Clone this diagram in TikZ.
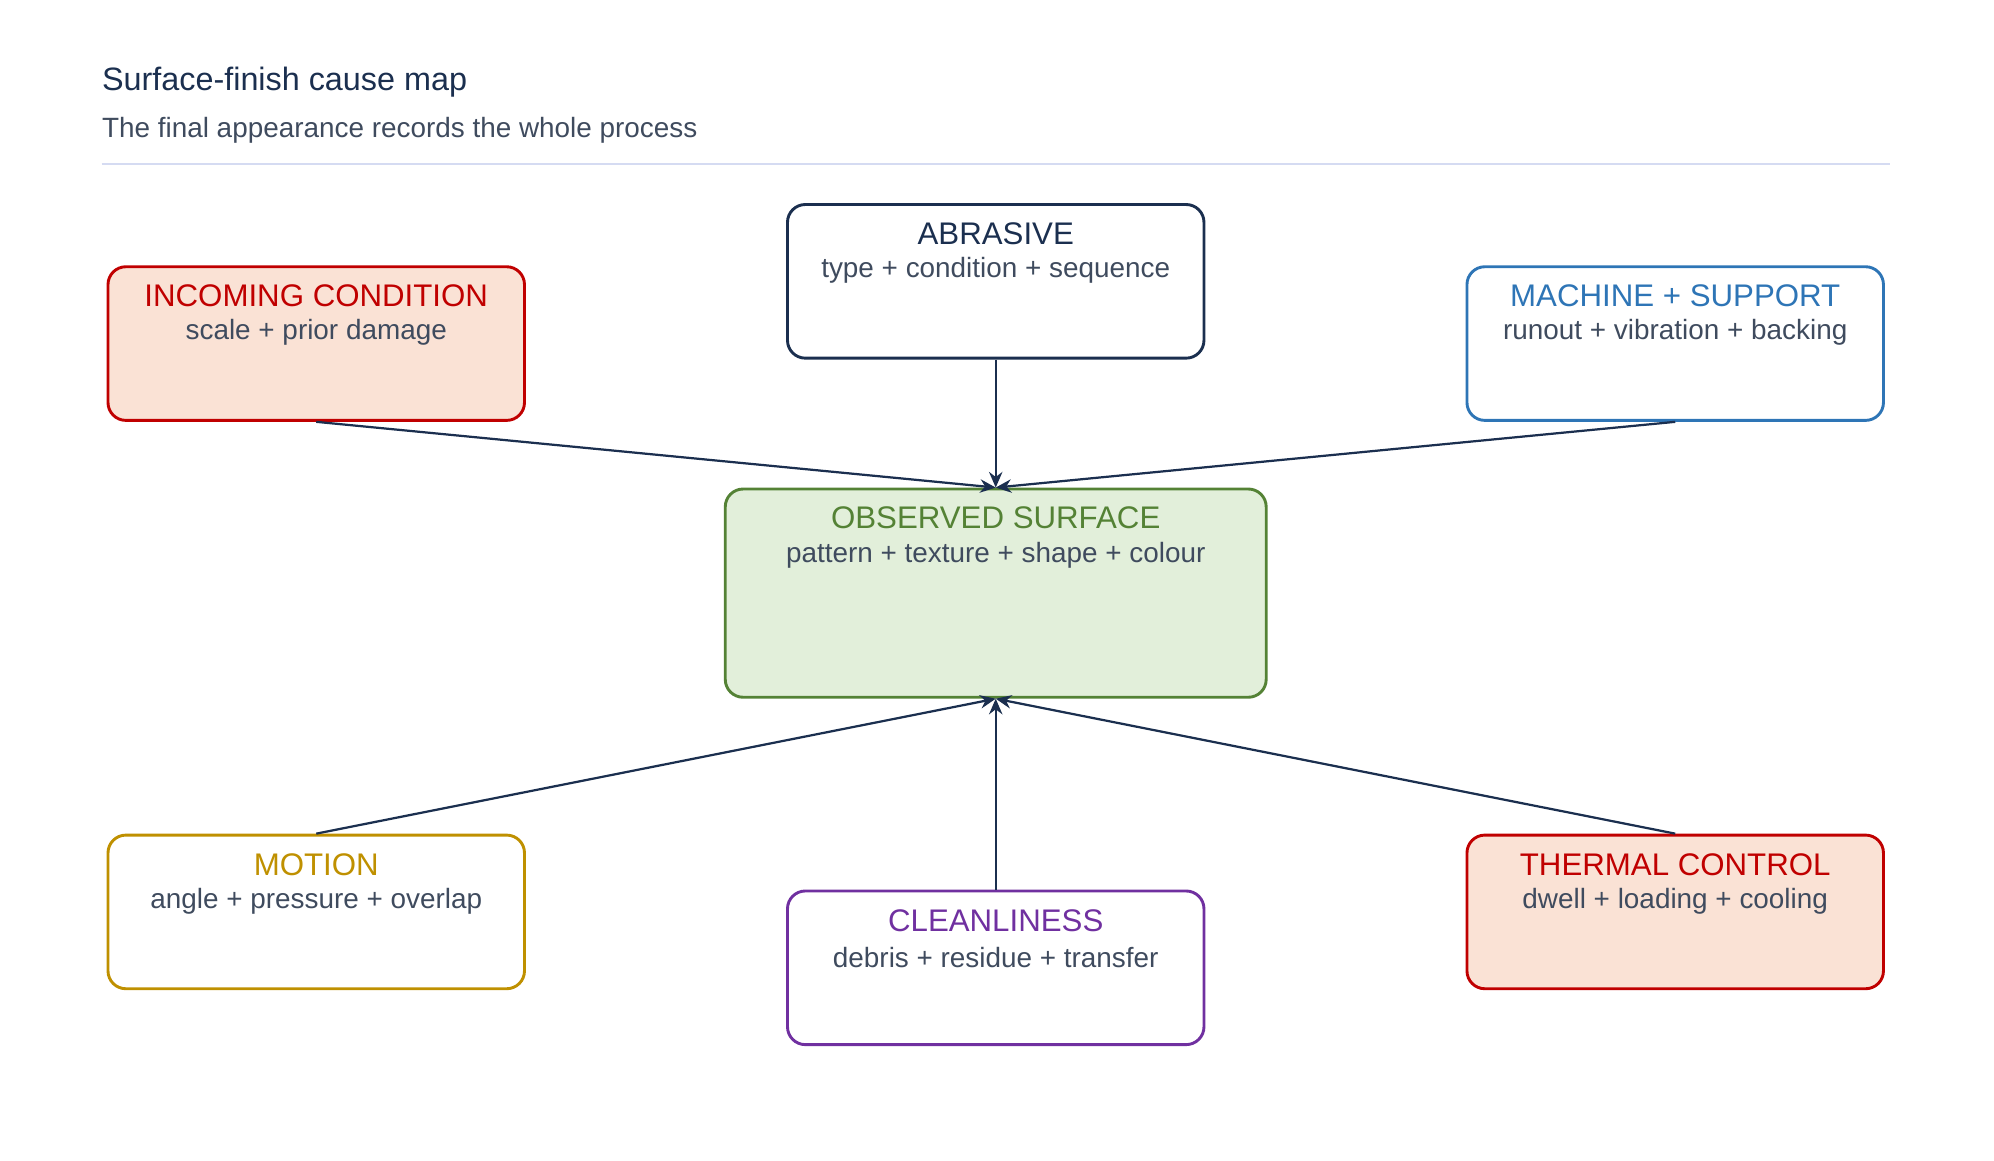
\documentclass[tikz,border=0pt]{standalone}
\usepackage{fontspec}
\setmainfont{Liberation Sans}
\usetikzlibrary{arrows.meta,positioning}
\definecolor{navy}{HTML}{1B2F4F}
\definecolor{txt}{HTML}{3F4B5E}
\definecolor{rd}{HTML}{C00000}
\definecolor{rdfill}{HTML}{FAE2D5}
\definecolor{bl}{HTML}{2E75B6}
\definecolor{gn}{HTML}{548235}
\definecolor{gnfill}{HTML}{E2EFDA}
\definecolor{gd}{HTML}{BF9000}
\definecolor{pu}{HTML}{7030A0}
\definecolor{rule}{HTML}{D5DBF2}
\tikzset{
  box/.style={draw,rounded corners=8pt,line width=1.3pt,minimum width=6.56cm,minimum height=2.42cm},
  head/.style={font=\fontsize{14}{16}\selectfont,inner sep=0pt,anchor=center},
  body/.style={font=\fontsize{12.5}{15}\selectfont,text=txt,inner sep=0pt,anchor=center},
  link/.style={draw=navy,line width=1pt,-{Stealth[length=7pt,width=6pt]}}
}
\begin{document}
\begin{tikzpicture}[x=0.02cm,y=-0.02cm]
	\useasboundingbox (0,0) rectangle (1570,914);
	%
	\node[anchor=base west,font=\fontsize{14.5}{17}\selectfont,text=navy,inner sep=0pt] (title) at (80,71) {Surface-finish cause map};
	\node[anchor=base west,font=\fontsize{12.5}{15}\selectfont,text=txt,inner sep=0pt] (sub) at (80,108) {The final appearance records the whole process};
	\draw[rule,line width=1pt] (80,129) -- (1488,129);
	%
	\node[box,draw=navy] (abr) at (784,221.5) {};
	\node[box,draw=rd,fill=rdfill] (inc) at (249,270.5) {};
	\node[box,draw=bl] (mach) at (1319,270.5) {};
	\node[box,draw=gn,fill=gnfill,minimum width=8.52cm,minimum height=3.28cm] (obs) at (784,467) {};
	\node[box,draw=gd] (mot) at (249,718) {};
	\node[box,draw=pu] (cln) at (784,762) {};
	\node[box,draw=rd,fill=rdfill] (thm) at (1319,718) {};
	%
	\node[head,text=navy] at (784,184) {ABRASIVE};
	\node[body] at (784,213) {type + condition + sequence};
	\node[head,text=rd] at (249,233) {INCOMING CONDITION};
	\node[body] at (249,262) {scale + prior damage};
	\node[head,text=bl] at (1319,233) {MACHINE + SUPPORT};
	\node[body] at (1319,262) {runout + vibration + backing};
	\node[head,text=gn] at (784,408) {OBSERVED SURFACE};
	\node[body] at (784,437) {pattern + texture + shape + colour};
	\node[head,text=gd] at (249,681) {MOTION};
	\node[body] at (249,710) {angle + pressure + overlap};
	\node[head,text=pu] at (784,725) {CLEANLINESS};
	\node[body] at (784,754) {debris + residue + transfer};
	\node[head,text=rd] at (1319,681) {THERMAL CONTROL};
	\node[body] at (1319,710) {dwell + loading + cooling};
	%
	\draw[link] (abr.south) -- (obs.north);
	\draw[link] (inc.south) -- (obs.north);
	\draw[link] (mach.south) -- (obs.north);
	\draw[link] (mot.north) -- (obs.south);
	\draw[link] (cln.north) -- (obs.south);
	\draw[link] (thm.north) -- (obs.south);
\end{tikzpicture}
\end{document}
